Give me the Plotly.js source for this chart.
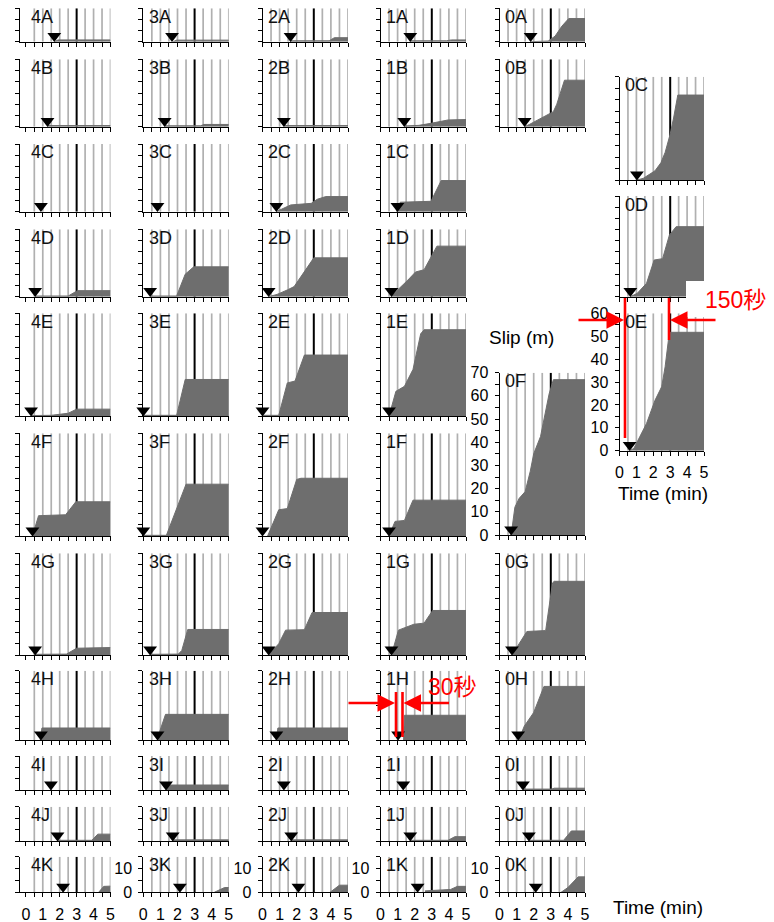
<!DOCTYPE html>
<html><head><meta charset="utf-8">
<script src="https://cdn.plot.ly/plotly-3.0.1.min.js"></script>
<style>html,body{margin:0;padding:0;background:#fff}#chart{width:774px;height:922px}</style>
</head><body><div id="chart"></div>
<script>
// ---------------- DATA ----------------
const rows = ['A','B','C','D','E','F','G','H','I','J','K'];
const cols = ['4','3','2','1','0'];
const timeTickLabels = ['0','1','2','3','4','5'];
const referenceTime = 3;           // black reference line (min)
const gridStep = 0.5;              // 30 s guide lines (min)
// onset times (triangles), rows A..K, minutes
const onset4 = [1.68,1.28,0.89,0.55,0.31,0.39,0.55,0.89,1.48,1.87,2.20];
const onset3 = [1.68,1.25,0.83,0.40,0.00,0.00,0.40,0.83,1.33,1.72,2.14];
const onset2 = [1.64,1.25,0.81,0.36,0.00,0.00,0.36,0.81,1.25,1.68,2.10];
const onset1 = [1.74,1.39,0.99,0.64,0.50,0.50,0.64,1.03,1.33,1.74,2.17];
const onset0 = [1.82,1.47,1.03,0.64,0.60,0.68,0.73,1.09,1.37,1.72,2.12];

// slip histories: time (min) and cumulative slip (m)
const t_4A=[1.7,1.9,5], s_4A=[0,0.8,0.8];
const t_3A=[1.75,1.95,5], s_3A=[0,0.7,0.7];
const t_2A=[1.64,3.9,4.2,5], s_2A=[0.4,0.4,1.8,1.8];
const t_1A=[1.74,3.85,4.15,5], s_1A=[0.4,0.4,0.8,0.8];
const t_0A=[1.82,2.85,3.25,3.65,4.05,5], s_0A=[0,0.3,2.5,7,10.4,10.4];
const t_4B=[1.28,5], s_4B=[0.5,0.5];
const t_3B=[1.25,3.35,3.55,5], s_3B=[0.4,0.4,1.0,1.0];
const t_2B=[1.25,5], s_2B=[0.5,0.5];
const t_1B=[1.39,2.25,2.95,3.95,5], s_1B=[0.3,0.6,1.5,3.0,3.2];
const t_0B=[1.47,1.75,3.15,3.35,3.8,5], s_0B=[0,1,6.7,10,20.7,20.7];
const t_4C=[], s_4C=[];
const t_3C=[], s_3C=[];
const t_2C=[0.8,1.25,1.65,2.85,3.2,3.7,5], s_2C=[0,1.5,3.0,3.7,5.5,6.7,6.7];
const t_1C=[0.95,1.15,2.95,3.55,5], s_1C=[0,4.2,4.6,13.8,13.8];
const t_0C=[1.03,1.4,2.1,2.45,2.7,3.0,3.2,3.45,5], s_0C=[0,0.7,4,7.5,12,20,27,37,37];
const t_4D=[0.55,2.5,3.05,5], s_4D=[0.3,0.3,2.7,2.7];
const t_3D=[0.40,1.95,2.45,2.95,5], s_3D=[0.3,0.3,10,13.3,13.3];
const t_2D=[0.36,0.85,1.45,1.85,3.0,5], s_2D=[0,1.0,3.0,4.5,17.3,17.3];
const t_1D=[0.64,1.0,1.6,2.05,2.55,3.05,3.3,5], s_1D=[0,3,7.4,11,12,19.3,22.5,22.5];
const t_0D=[0.64,1.05,1.6,2.05,2.55,2.95,3.35,5], s_0D=[0,1.5,6,16.4,17,27.5,31.3,31.3];
const t_4E=[0.31,1.5,2.5,3.0,5], s_4E=[0.2,0.3,1.2,3.0,3.0];
const t_3E=[0,1.95,2.45,5], s_3E=[0.3,0.3,16,16];
const t_2E=[0,0.95,1.45,1.9,2.45,5], s_2E=[0.3,0.3,14.5,15.3,26.7,26.7];
const t_1E=[0.5,0.9,1.4,1.9,2.35,2.55,5], s_1E=[0,10.8,13,20.4,36,37.8,37.8];
const t_0E=[0.6,0.85,1.6,2.1,2.5,2.7,2.95,5], s_0E=[0,1,11.9,22,28,36.7,51.7,51.7];
const t_4F=[0.39,0.75,2.35,2.95,5], s_4F=[0,8.9,9.3,15,15];
const t_3F=[0,1.35,2.5,5], s_3F=[0.3,0.3,22.7,22.7];
const t_2F=[0.3,0.95,1.45,2.0,2.25,5], s_2F=[0,11.5,12,24.8,25.3,25.3];
const t_1F=[0.5,0.85,1.4,1.9,5], s_1F=[0,6.4,6.8,15.7,15.7];
const t_0F=[0.68,0.8,0.9,1.15,1.5,1.8,2.0,2.4,2.6,2.9,3.15,5], s_0F=[0,8,12,15.8,18.7,27.5,35,42.5,50.5,60.8,67,67];
const t_4G=[0.55,2.4,3.0,5], s_4G=[0.3,0.4,3.0,3.3];
const t_3G=[0.4,2.05,2.25,2.6,5], s_3G=[0.3,0.4,2,11.3,11.3];
const t_2G=[0.36,0.95,1.35,2.45,2.9,5], s_2G=[0,5,11,11.2,18.8,18.8];
const t_1G=[0.64,1.05,1.95,2.55,3.05,5], s_1G=[0,11,13.6,14.1,19.7,19.7];
const t_0G=[0.73,1.05,1.6,2.7,3.1,3.2,5], s_0G=[0,3.7,10.4,10.8,31.9,32.6,32.6];
const t_4H=[0.85,0.95,5], s_4H=[0,5.2,5.2];
const t_3H=[0.83,0.95,1.3,5], s_3H=[0,3.5,11.1,11.1];
const t_2H=[0.8,0.9,5], s_2H=[0,5.2,5.2];
const t_1H=[1.35,1.4,5], s_1H=[0,10.7,10.7];
const t_0H=[1.09,1.2,1.45,2.0,2.6,5], s_0H=[0,1.5,6,11.9,23.2,23.2];
const t_4I=[], s_4I=[];
const t_3I=[1.33,1.4,5], s_3I=[0,2.2,2.2];
const t_2I=[], s_2I=[];
const t_1I=[], s_1I=[];
const t_0I=[1.37,3.05,3.2,5], s_0I=[0.4,0.4,0.8,0.8];
const t_4J=[1.87,3.9,4.25,5], s_4J=[0.3,0.3,3.0,3.0];
const t_3J=[1.72,5], s_3J=[0.5,0.5];
const t_2J=[1.68,5], s_2J=[0.5,0.5];
const t_1J=[1.74,3.95,4.35,5], s_1J=[0.3,0.3,1.9,1.9];
const t_0J=[1.72,3.75,4.2,5], s_0J=[0.3,0.3,4.4,4.4];
const t_4K=[4.3,4.6,5], s_4K=[0,2.5,2.6];
const t_3K=[4.15,4.75,5], s_3K=[0,2.0,2.0];
const t_2K=[3.95,4.5,5], s_2K=[0,3.0,3.0];
const t_1K=[2.6,4.1,4.5,5], s_1K=[0.6,1.2,2.5,2.5];
const t_0K=[3.6,4.0,4.6,5], s_0K=[0,2.0,6.5,6.5];

// --------------- tables built from the arrays ---------------
const series = {
 '4A':[t_4A,s_4A],'3A':[t_3A,s_3A],'2A':[t_2A,s_2A],'1A':[t_1A,s_1A],'0A':[t_0A,s_0A],
 '4B':[t_4B,s_4B],'3B':[t_3B,s_3B],'2B':[t_2B,s_2B],'1B':[t_1B,s_1B],'0B':[t_0B,s_0B],
 '4C':[t_4C,s_4C],'3C':[t_3C,s_3C],'2C':[t_2C,s_2C],'1C':[t_1C,s_1C],'0C':[t_0C,s_0C],
 '4D':[t_4D,s_4D],'3D':[t_3D,s_3D],'2D':[t_2D,s_2D],'1D':[t_1D,s_1D],'0D':[t_0D,s_0D],
 '4E':[t_4E,s_4E],'3E':[t_3E,s_3E],'2E':[t_2E,s_2E],'1E':[t_1E,s_1E],'0E':[t_0E,s_0E],
 '4F':[t_4F,s_4F],'3F':[t_3F,s_3F],'2F':[t_2F,s_2F],'1F':[t_1F,s_1F],'0F':[t_0F,s_0F],
 '4G':[t_4G,s_4G],'3G':[t_3G,s_3G],'2G':[t_2G,s_2G],'1G':[t_1G,s_1G],'0G':[t_0G,s_0G],
 '4H':[t_4H,s_4H],'3H':[t_3H,s_3H],'2H':[t_2H,s_2H],'1H':[t_1H,s_1H],'0H':[t_0H,s_0H],
 '4I':[t_4I,s_4I],'3I':[t_3I,s_3I],'2I':[t_2I,s_2I],'1I':[t_1I,s_1I],'0I':[t_0I,s_0I],
 '4J':[t_4J,s_4J],'3J':[t_3J,s_3J],'2J':[t_2J,s_2J],'1J':[t_1J,s_1J],'0J':[t_0J,s_0J],
 '4K':[t_4K,s_4K],'3K':[t_3K,s_3K],'2K':[t_2K,s_2K],'1K':[t_1K,s_1K],'0K':[t_0K,s_0K]
};
const onsets = {'4':onset4,'3':onset3,'2':onset2,'1':onset1,'0':onset0};

// --------------- LAYOUT GEOMETRY (pixels) ---------------
const W = 774, H = 922;
const PX = v => v / W;
const PY = v => 1 - v / H;
// column: [left px, right px (5 min), x-range start]
const colGeom = {'4':[19.5,110.5,-0.375],'3':[143.3,228.8,0],'2':[262.5,348,0],'1':[380.5,466,0],'0':[499.5,585,0],'X':[619.5,704,0]};
// row: [top px, bottom px, slip range max]
const rowGeom = {A:[8.3,41.7,15],B:[59.3,126.7,30],C:[144,211.7,30],D:[229.3,296.7,30],E:[313.3,416,45],
  F:[433.3,536,45],G:[553.3,655,45],H:[670.7,740,30],I:[756,790,15],J:[806.7,841,15],K:[856.7,892.3,15]};
const special = {'0C':['X',[76.7,180,45]],'0D':['X',[196,296.7,45]],'0E':['X',[313.3,450.7,60]],'0F':['0',[372.7,535,70]]};

const FONT = 'Liberation Sans, Arial, Helvetica, sans-serif';
const GRAY = '#6e6e6e';
const data = [];
const layout = {
  width: W, height: H, margin:{l:0,r:0,t:0,b:0}, showlegend:false,
  paper_bgcolor:'#fff', plot_bgcolor:'rgba(0,0,0,0)',
  font:{family:FONT, size:16, color:'#000'},
  annotations:[], shapes:[]
};

let n = 0;
cols.forEach(c => rows.forEach((r, ri) => {
  n++;
  const id = c + r;
  let cg = colGeom[c], rg = rowGeom[r];
  if (special[id]) { cg = colGeom[special[id][0]]; rg = special[id][1]; }
  const [left, right, xmin] = cg;
  const [top, bottom, ymax] = rg;
  const xa = 'xaxis' + (n === 1 ? '' : n), ya = 'yaxis' + (n === 1 ? '' : n);
  const xr = 'x' + (n === 1 ? '' : n), yr = 'y' + (n === 1 ? '' : n);

  const showX = (r === 'K') || id === '0E';
  const xt = [], xtt = [];
  for (let k = 0; k <= 10; k++) { xt.push(k/2); xtt.push(k % 2 === 0 ? timeTickLabels[k/2] : ''); }
  const showY = id === '0E' || id === '0F' || (r === 'K' && c !== '4');
  const yt = [], ytt = [];
  for (let v = 0; v <= ymax + 0.01; v += 5) { yt.push(v); ytt.push(v % 10 === 0 ? String(v) : ''); }

  layout[xa] = {
    domain:[PX(left), PX(right)], range:[xmin, 5], anchor: yr,
    tickmode:'array', tickvals: xt, ticktext: xtt, showticklabels: showX,
    ticks:'outside', ticklen:4, tickwidth:1, tickcolor:'#000',
    showline:true, linecolor:'#000', linewidth:1,
    showgrid:false, zeroline:false,
    tickfont:{family:FONT, size:16, color:'#000'}, ticklabelstandoff:3, fixedrange:true
  };
  layout[ya] = {
    domain:[PY(bottom), PY(top)], range:[0, ymax], anchor: xr,
    tickmode:'array', tickvals: yt, ticktext: ytt, showticklabels: showY,
    ticks:'outside', ticklen:4, tickwidth:1, tickcolor:'#000',
    showline:true, linecolor:'#000', linewidth:1,
    showgrid:false, zeroline:false,
    tickfont:{family:FONT, size:16, color:'#000'}, ticklabelstandoff:3, fixedrange:true
  };

  // 30-second guide lines (gray) and reference line (black)
  const gx = [], gy = [];
  for (let g = gridStep; g <= 5 + 1e-9; g += gridStep) {
    if (Math.abs(g - referenceTime) < 1e-6) continue;
    gx.push(g, g, null); gy.push(0, ymax, null);
  }
  data.push({x:gx, y:gy, xaxis:xr, yaxis:yr, mode:'lines', line:{color:'#b0b0b0', width:1.7},
    hoverinfo:'skip', cliponaxis:false});
  data.push({x:[referenceTime, referenceTime], y:[0, ymax], xaxis:xr, yaxis:yr, mode:'lines',
    line:{color:'#000', width:2}, hoverinfo:'skip'});
  // slip history
  const [tt, ss] = series[id];
  if (tt.length) {
    data.push({x:tt, y:ss, xaxis:xr, yaxis:yr, mode:'lines', fill:'tozeroy',
      fillcolor:GRAY, line:{color:GRAY, width:1}, hoverinfo:'skip'});
  }
  // onset triangle (tip resting on the time axis)
  const pxPerM = (bottom - top) / ymax;
  data.push({x:[onsets[c][ri]], y:[5.6 / pxPerM], xaxis:xr, yaxis:yr, mode:'markers',
    marker:{symbol:'triangle-down', size:12, color:'#000'}, cliponaxis:false, hoverinfo:'skip'});

  // panel label
  layout.annotations.push({text:id, xref:xr, yref:'paper', x:0.2, y:PY(top - 3.5),
    xanchor:'left', yanchor:'top', showarrow:false, font:{family:FONT, size:18, color:'#111'}});
}));

// axis titles
layout.annotations.push({text:'Slip (m)', xref:'paper', yref:'paper', x:PX(521.5), y:PY(337.5),
  xanchor:'center', yanchor:'middle', showarrow:false, font:{family:FONT, size:19, color:'#000'}});
layout.annotations.push({text:'Time (min)', xref:'paper', yref:'paper', x:PX(663), y:PY(493),
  xanchor:'center', yanchor:'middle', showarrow:false, font:{family:FONT, size:19, color:'#000'}});
layout.annotations.push({text:'Time (min)', xref:'paper', yref:'paper', x:PX(657.5), y:PY(907),
  xanchor:'center', yanchor:'middle', showarrow:false, font:{family:FONT, size:19, color:'#000'}});

// red annotations
const RED = '#ff0000';
const CJK = 'Liberation Sans, Noto Sans CJK JP, sans-serif';
layout.shapes.push({type:'rect', xref:'paper', yref:'paper', x0:PX(686), x1:PX(774), y0:PY(317), y1:PY(281),
  fillcolor:'#fff', line:{width:0}, layer:'above'});
const redLine = (x, y0, y1) => ({type:'line', xref:'paper', yref:'paper', x0:PX(x), x1:PX(x), y0:PY(y0), y1:PY(y1),
  line:{color:RED, width:2.6}, layer:'above'});
layout.shapes.push(redLine(625, 298, 438));
layout.shapes.push(redLine(669, 298, 340));
layout.shapes.push(redLine(396, 692, 737));
layout.shapes.push(redLine(402.5, 692, 737));
const arrow = (x, y, ax) => ({text:'', xref:'paper', yref:'paper', x:PX(x), y:PY(y), ax:ax, ay:0,
  showarrow:true, arrowhead:2, arrowsize:1.4, arrowwidth:2.5, arrowcolor:RED, standoff:0});
layout.annotations.push(arrow(624, 320, -47));
layout.annotations.push(arrow(670, 320, 47));
layout.annotations.push(arrow(395, 703, -48));
layout.annotations.push(arrow(403.5, 703, 47));
layout.annotations.push({text:'150秒', xref:'paper', yref:'paper', x:PX(735), y:PY(300),
  xanchor:'center', yanchor:'middle', showarrow:false, font:{family:CJK, size:23, color:RED}});
layout.annotations.push({text:'30秒', xref:'paper', yref:'paper', x:PX(452.5), y:PY(687),
  xanchor:'center', yanchor:'middle', showarrow:false, font:{family:CJK, size:23, color:RED}});

Plotly.newPlot('chart', data, layout, {staticPlot:true, displayModeBar:false});
</script></body></html>
